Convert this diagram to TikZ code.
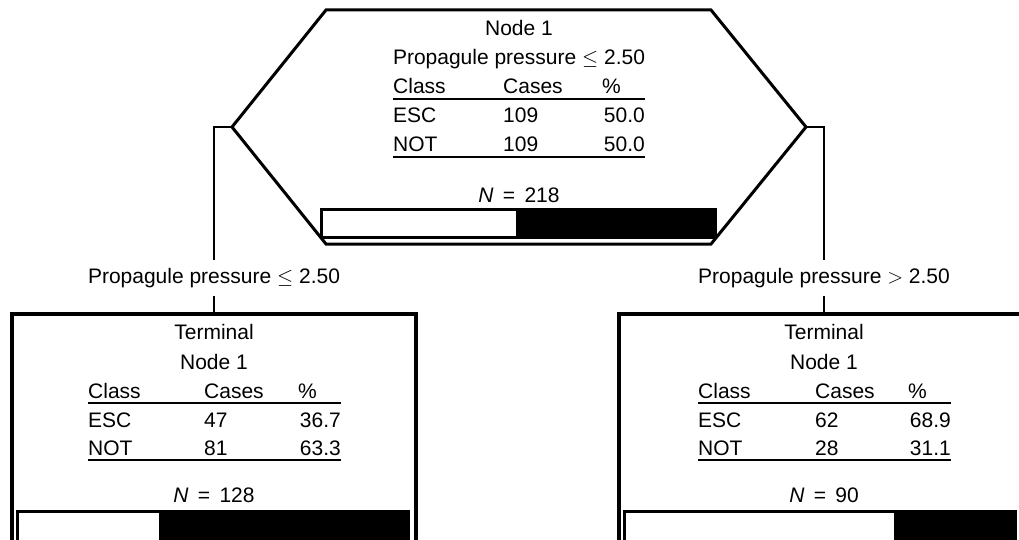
\documentclass[tikz,border=0pt]{standalone}
\usepackage{fontspec}
\setmainfont{Liberation Sans}
\begin{document}
\begin{tikzpicture}[x=1pt,y=-1pt,font=\fontsize{21}{24}\selectfont,
    hexline/.style={line width=3pt,line join=miter},
    termbox/.style={draw,line width=3.5pt,inner sep=0pt,anchor=north},
    conn/.style={line width=1.4pt},
    rule/.style={line width=1.3pt},
    cell/.style={inner sep=0pt,anchor=base west},
    num/.style={inner sep=0pt,anchor=base east},
    title/.style={inner sep=0pt,anchor=base},
    split/.style={inner sep=0pt,minimum height=36pt}]
  \useasboundingbox (0,0) rectangle (1019,540);
  \clip (0,0) rectangle (1019,540);
  %% root node
  \coordinate (hexL) at (232,127);
  \coordinate (hexR) at (806,127);
  \draw[hexline] (hexL) -- (326,10) -- (711,10) -- (hexR) -- (711,244) -- (326,244) -- cycle;
  \node[title] (rootName) at (519,36) {Node 1};
  \node[title] (rootRule) at (519,65) {Propagule pressure $\leq$ 2.50};
  \node[cell] (rootClass) at (393,94) {Class};
  \node[cell] (rootCases) at (503,94) {Cases};
  \node[cell] (rootPct) at (602,94) {\%};
  \draw[rule] (393,99) -- (645,99);
  \node[cell] (rootEsc) at (393,123) {ESC};
  \node[cell] (rootEscN) at (503,123) {109};
  \node[num] (rootEscP) at (645,123) {50.0};
  \node[cell] (rootNot) at (393,152) {NOT};
  \node[cell] (rootNotN) at (503,152) {109};
  \node[num] (rootNotP) at (645,152) {50.0};
  \draw[rule] (393,157) -- (645,157);
  \node[title] (rootN) at (519,202) {\textit{N} \,=\, 218};
  \fill (320,208) rectangle (717,239);
  \fill[white] (323,211) rectangle (516,236);
  %% left terminal node
  \node[split] (splitL) at (214,278) {Propagule pressure $\leq$ 2.50};
  \node[termbox,minimum width=404pt,minimum height=260pt] (termL) at (214,312) {};
  \draw[conn] (hexL) -| (splitL.north);
  \draw[conn] (splitL.south) -- (termL.north);
  \node[title] (leftName) at (214,339) {Terminal};
  \node[title] (leftNode) at (214,369) {Node 1};
  \node[cell] (leftClass) at (88,398) {Class};
  \node[cell] (leftCases) at (204,398) {Cases};
  \node[cell] (leftPct) at (298,398) {\%};
  \draw[rule] (88,403) -- (341,403);
  \node[cell] (leftEsc) at (88,427) {ESC};
  \node[cell] (leftEscN) at (204,427) {47};
  \node[num] (leftEscP) at (341,427) {36.7};
  \node[cell] (leftNot) at (88,455) {NOT};
  \node[cell] (leftNotN) at (204,455) {81};
  \node[num] (leftNotP) at (341,455) {63.3};
  \draw[rule] (88,460) -- (341,460);
  \node[title] (leftN) at (214,502) {\textit{N} \,=\, 128};
  \fill (16,510) rectangle (410,560);
  \fill[white] (19,513) rectangle (159,560);
  %% right terminal node
  \node[split] (splitR) at (824,278) {Propagule pressure $>$ 2.50};
  \node[termbox,minimum width=404pt,minimum height=260pt] (termR) at (821,312) {};
  \draw[conn] (hexR) -| (splitR.north);
  \draw[conn] (splitR.south) -- (splitR.south |- termR.north);
  \node[title] (rightName) at (824,339) {Terminal};
  \node[title] (rightNode) at (824,369) {Node 1};
  \node[cell] (rightClass) at (698,398) {Class};
  \node[cell] (rightCases) at (815,398) {Cases};
  \node[cell] (rightPct) at (908,398) {\%};
  \draw[rule] (698,403) -- (951,403);
  \node[cell] (rightEsc) at (698,427) {ESC};
  \node[cell] (rightEscN) at (815,427) {62};
  \node[num] (rightEscP) at (951,427) {68.9};
  \node[cell] (rightNot) at (698,455) {NOT};
  \node[cell] (rightNotN) at (815,455) {28};
  \node[num] (rightNotP) at (951,455) {31.1};
  \draw[rule] (698,460) -- (951,460);
  \node[title] (rightN) at (824,502) {\textit{N} \,=\, 90};
  \fill (623,510) rectangle (1017,560);
  \fill[white] (626,513) rectangle (894,560);
\end{tikzpicture}
\end{document}
